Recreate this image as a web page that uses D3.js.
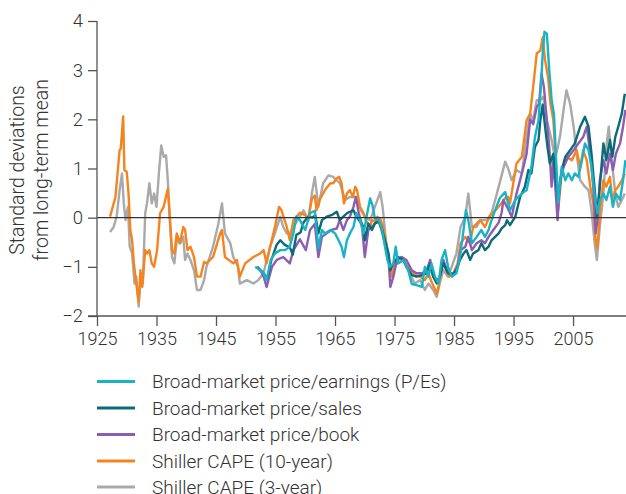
<!DOCTYPE html>
<html><head><meta charset="utf-8">
<script src="https://cdn.jsdelivr.net/npm/d3@7"></script>
<style>
html,body{margin:0;padding:0;background:#fff;}
svg{display:block;}
text{font-family:Roboto,"Liberation Sans",sans-serif;font-weight:300;fill:#333;}
</style></head><body>
<svg id="chart" width="626" height="494"></svg>
<script>
// ---- data (years, standard deviations from long-term mean) ----
const seriesNames = ["Broad-market price/earnings (P/Es)","Broad-market price/sales","Broad-market price/book","Shiller CAPE (10-year)","Shiller CAPE (3-year)"];
const seriesColors = ["#1ab3c6","#0d6a78","#8c5db1","#f5841f","#a9a9a9"];
const xTicks = [1925,1935,1945,1955,1965,1975,1985,1995,2005];
const yTicks = [-2,-1,0,1,2,3,4];

const cape10Years = [1927.2,1928.1,1928.8,1929.0,1929.4,1929.6,1930.0,1930.3,1930.6,1930.9,1931.2,1931.6,1932.0,1932.3,1932.6,1933.1,1933.4,1933.8,1934.2,1934.6,1935.1,1935.6,1936.2,1936.9,1937.2,1937.6,1938.0,1938.4,1938.9,1939.5,1939.8,1940.2,1940.7,1941.3,1941.8,1942.4,1943.0,1943.4,1944.5,1945.7,1946.0,1946.5,1947.9,1948.5,1949.0,1949.9,1951.3,1952.4,1953.0,1953.5,1954.1,1954.9,1955.6,1956.0,1956.9,1957.4,1958.0,1959.1,1960.0,1960.5,1961.1,1961.6,1961.9,1962.4,1963.3,1964.2,1964.7,1965.3,1965.7,1966.1,1966.5,1967.0,1967.5,1968.0,1968.4,1968.7,1969.2,1969.8,1970.3,1970.9,1971.2,1971.7,1972.1,1972.6,1973.1,1973.6,1974.1,1974.5,1975.1,1975.6,1976.2,1976.8,1977.6,1978.4,1979.3,1980.1,1980.7,1981.2,1982.1,1982.5,1983.1,1983.7,1984.2,1984.9,1985.6,1986.1,1986.9,1987.7,1988.2,1989.4,1990.2,1991.1,1992.2,1993.0,1993.6,1994.1,1994.4,1995.5,1996.4,1997.2,1997.8,1998.3,1998.9,1999.5,1999.9,2000.3,2000.8,2001.2,2001.7,2002.0,2002.5,2003.1,2003.9,2004.8,2005.6,2006.2,2006.7,2007.3,2007.9,2008.4,2008.8,2009.1,2009.5,2010.1,2010.6,2011.2,2011.6,2012.1,2012.6,2013.2,2013.7];
const cape10Values = [0.02,0.42,1.37,1.41,2.06,0.97,0.93,0.49,-0.25,-0.46,-0.93,-1.34,-1.71,-1.07,-1.41,-0.66,-0.73,-0.66,-0.93,-1.0,-0.66,0.09,0.22,0.59,0.09,-0.66,-0.73,-0.32,-0.52,-0.19,-0.25,-0.66,-0.59,-0.8,-1.2,-1.2,-0.9,-0.93,-0.8,-0.32,-0.25,-0.8,-0.93,-0.86,-1.2,-0.93,-0.8,-0.73,-0.66,-0.93,-0.59,-0.19,0.22,0.15,-0.19,-0.46,-0.05,0.1,0.05,-0.05,0.38,0.45,0.15,0.36,0.56,0.7,0.7,0.8,0.83,0.7,0.29,0.49,0.56,0.42,0.63,0.56,0.22,0.09,-0.08,-0.19,-0.05,-0.08,0.02,-0.02,-0.19,-0.52,-0.86,-1.2,-0.93,-0.86,-0.8,-0.93,-1.05,-1.17,-1.2,-1.27,-1.13,-1.3,-1.54,-1.34,-0.86,-1.07,-1.2,-1.13,-0.93,-0.52,-0.39,-0.52,-0.19,-0.05,-0.19,0.05,0.18,0.3,0.4,0.42,0.29,1.1,1.24,1.98,2.12,2.66,3.34,3.4,3.67,3.2,2.86,2.32,1.98,1.37,0.15,0.9,1.24,1.17,1.37,1.03,1.37,1.17,0.63,0.29,-0.46,-0.62,0.09,0.76,0.63,0.83,0.36,0.56,0.63,0.76,0.9];

const cape3Years = [1927.2,1927.8,1928.3,1928.8,1929.2,1929.5,1929.8,1930.2,1930.5,1930.9,1931.3,1931.6,1932.0,1932.4,1932.7,1933.1,1933.4,1933.8,1934.2,1934.6,1935.0,1935.4,1935.8,1936.2,1936.6,1936.9,1937.2,1937.6,1938.0,1938.4,1939.0,1939.5,1939.8,1940.2,1940.7,1941.3,1941.8,1942.4,1943.0,1943.4,1944.5,1945.4,1946.0,1946.5,1947.4,1947.9,1948.7,1949.0,1950.2,1951.3,1952.1,1953.0,1953.5,1954.1,1954.9,1955.8,1956.3,1956.9,1957.4,1958.0,1959.1,1959.7,1960.5,1961.1,1961.6,1962.2,1963.0,1963.9,1964.7,1965.8,1966.7,1967.5,1968.4,1968.9,1969.5,1970.0,1970.9,1971.7,1972.6,1973.0,1973.6,1974.0,1974.5,1975.4,1976.5,1977.6,1978.4,1979.3,1980.1,1980.7,1981.5,1982.1,1982.6,1983.2,1984.0,1984.6,1985.4,1986.1,1986.9,1987.4,1988.0,1988.8,1989.4,1990.5,1991.3,1992.2,1993.0,1993.6,1994.1,1994.7,1995.5,1996.4,1997.2,1997.8,1998.3,1998.9,1999.5,2000.0,2000.6,2001.4,2002.0,2002.8,2003.4,2003.9,2004.5,2005.1,2005.6,2006.2,2007.0,2007.6,2008.1,2008.7,2009.0,2009.5,2010.1,2010.6,2011.0,2011.5,2012.1,2012.6,2013.2,2013.7];
const cape3Values = [-0.29,-0.19,0.02,0.56,0.9,0.29,-0.05,0.22,-0.59,-0.73,-1.34,-1.2,-1.81,-1.13,-1.34,0.09,0.29,0.7,0.29,0.49,0.22,0.9,1.47,1.24,1.27,0.76,0.02,-0.8,-0.93,-0.46,-0.52,-0.39,-0.86,-0.73,-0.86,-1.07,-1.47,-1.47,-1.27,-1.0,-0.59,-0.12,0.29,-0.32,-0.52,-0.8,-1.0,-1.34,-1.27,-1.34,-1.27,-1.13,-0.86,-0.59,-0.32,0.02,-0.19,-0.32,-0.32,-0.19,0.02,0.15,-0.05,0.49,0.83,0.22,0.7,0.86,0.83,0.7,0.36,0.42,0.42,0.29,0.12,0.02,-0.05,0.22,0.52,0.22,-0.52,-0.86,-1.13,-0.93,-0.86,-1.15,-1.34,-1.27,-1.47,-1.34,-1.47,-1.61,-1.34,-1.07,-1.2,-1.0,-0.73,-0.19,0.02,0.49,-0.19,-0.19,-0.05,-0.05,0.09,0.49,0.86,1.14,1.0,0.76,0.97,0.9,1.64,2.12,1.98,2.39,2.39,2.46,1.98,1.58,1.2,1.64,2.19,2.59,2.32,1.85,1.3,0.76,0.63,0.56,0.15,-0.59,-0.86,-0.19,0.49,1.44,1.85,1.17,0.49,0.22,0.36,0.49];

const salesYears = [1951.9,1952.5,1953.0,1953.6,1954.3,1955.2,1955.8,1956.6,1957.4,1957.9,1958.5,1959.2,1959.7,1960.5,1961.2,1961.7,1962.2,1962.8,1963.6,1964.4,1965.3,1965.8,1966.4,1967.0,1967.5,1968.1,1968.6,1969.2,1969.8,1970.0,1970.6,1971.2,1971.7,1972.3,1972.8,1973.4,1974.0,1974.3,1974.8,1975.6,1976.5,1977.0,1977.9,1978.7,1979.6,1980.4,1981.0,1981.5,1982.1,1982.6,1983.2,1984.0,1984.8,1985.4,1986.0,1986.6,1987.1,1987.7,1988.2,1989.1,1989.6,1990.2,1990.8,1991.3,1991.9,1992.5,1993.0,1993.6,1993.9,1994.4,1995.3,1996.1,1996.9,1997.5,1998.0,1998.6,1999.2,1999.5,1999.9,2000.3,2000.7,2001.1,2001.7,2002.1,2002.5,2003.1,2003.7,2004.5,2005.3,2006.2,2007.0,2007.6,2008.1,2008.7,2009.0,2009.5,2010.1,2010.6,2011.2,2011.6,2012.1,2012.6,2013.2,2013.7];
const salesValues = [-1.0,-1.07,-1.13,-1.25,-0.86,-0.55,-0.46,-0.56,-0.6,-0.75,-0.35,-0.3,-0.1,0.02,0.0,0.05,-0.32,-0.05,0.02,0.05,0.12,-0.05,0.02,0.09,0.12,0.15,0.02,-0.08,-0.19,-0.46,-0.12,-0.25,-0.12,-0.08,-0.19,-0.46,-0.73,-1.07,-0.93,-0.8,-0.86,-1.0,-1.17,-1.2,-1.17,-1.13,-0.93,-1.2,-1.34,-1.2,-0.93,-1.13,-1.17,-1.07,-0.86,-0.73,-0.66,-0.86,-0.73,-0.66,-0.52,-0.66,-0.59,-0.46,-0.39,-0.32,-0.22,-0.15,-0.05,-0.15,0.02,0.42,0.63,0.97,0.9,1.44,1.58,1.98,2.3,1.85,1.44,1.1,1.3,0.76,0.36,0.97,1.24,1.37,1.51,1.85,2.05,1.85,1.3,0.49,0.0,0.63,1.51,1.17,1.58,1.24,1.64,1.85,2.12,2.52];

const bookYears = [1952.0,1952.6,1953.0,1953.5,1954.4,1955.2,1956.3,1957.4,1958.0,1959.1,1960.1,1960.8,1961.6,1962.2,1962.8,1963.6,1964.4,1965.3,1965.8,1966.4,1967.0,1967.5,1968.1,1968.5,1969.0,1969.5,1970.0,1970.6,1971.2,1971.7,1972.3,1972.8,1973.4,1974.0,1974.3,1974.8,1975.4,1976.2,1977.0,1977.9,1978.7,1979.6,1980.4,1981.0,1981.5,1982.1,1982.6,1983.2,1984.0,1984.9,1985.6,1986.1,1986.9,1987.4,1988.0,1988.8,1989.6,1990.2,1990.8,1991.6,1992.5,1993.0,1993.3,1993.9,1994.7,1995.5,1996.4,1997.2,1997.8,1998.3,1998.9,1999.3,1999.7,2000.1,2000.6,2001.0,2001.4,2001.7,2002.1,2002.4,2002.8,2003.4,2004.2,2005.1,2005.9,2006.7,2007.3,2007.9,2008.4,2008.8,2009.1,2009.5,2010.1,2010.6,2011.2,2011.7,2012.2,2012.9,2013.4,2013.8];
const bookValues = [-1.0,-1.1,-1.2,-1.41,-1.0,-0.86,-0.8,-0.93,-0.66,-0.44,-0.66,-0.25,-0.13,-0.8,-0.39,-0.32,-0.25,-0.22,-0.05,-0.25,-0.05,0.02,0.22,0.42,0.09,-0.12,-0.8,-0.25,-0.19,-0.12,-0.05,-0.25,-0.52,-0.86,-1.41,-1.2,-0.86,-0.8,-0.86,-1.07,-1.13,-1.13,-1.07,-0.86,-1.2,-1.3,-1.2,-0.86,-1.13,-1.13,-1.0,-0.66,-0.59,-0.39,-0.66,-0.52,-0.46,-0.52,-0.39,-0.25,-0.1,0.1,0.36,0.22,0.02,0.49,0.9,1.3,2.0,1.9,2.25,2.32,2.93,2.66,1.98,1.44,0.63,1.17,0.49,-0.05,0.76,1.03,1.24,1.37,1.51,1.64,1.85,1.3,0.63,-0.32,-0.05,0.76,1.17,0.9,1.3,0.97,1.3,1.51,1.85,2.19];

const peYears = [1951.6,1952.4,1953.0,1953.5,1954.2,1954.9,1955.8,1956.6,1957.4,1958.0,1958.5,1959.1,1960.0,1960.8,1961.6,1962.2,1962.8,1963.3,1964.2,1965.0,1965.6,1966.1,1966.5,1967.0,1967.5,1968.1,1968.6,1969.2,1969.8,1970.3,1970.9,1971.3,1971.7,1972.3,1972.8,1973.4,1973.8,1974.2,1974.8,1975.2,1975.6,1976.5,1977.3,1977.9,1978.7,1979.6,1980.1,1980.7,1981.2,1981.8,1982.4,1982.9,1983.5,1984.0,1984.6,1985.4,1986.0,1986.6,1987.0,1987.4,1988.0,1988.8,1989.6,1990.2,1990.8,1991.3,1991.9,1992.7,1993.6,1994.4,1995.3,1996.4,1997.2,1998.0,1998.6,1999.2,1999.6,1999.9,2000.2,2000.6,2001.0,2001.4,2001.8,2002.1,2002.5,2003.1,2003.7,2004.2,2004.8,2005.3,2005.9,2006.5,2007.0,2007.6,2008.1,2008.7,2009.1,2009.5,2010.1,2010.6,2011.2,2011.7,2012.2,2012.9,2013.4,2013.8];
const peValues = [-1.0,-1.07,-1.13,-1.27,-0.86,-0.73,-0.66,-0.66,-0.59,-0.32,0.02,-0.05,-0.25,0.09,0.14,-0.62,-0.25,-0.32,-0.25,-0.32,-0.46,-0.59,-0.8,-0.46,-0.32,-0.19,0.09,-0.05,-0.32,0.02,0.39,0.25,-0.02,-0.05,-0.19,-0.59,-0.86,-1.0,-0.93,-0.59,-0.93,-0.86,-1.07,-1.35,-1.37,-1.41,-1.0,-1.2,-0.93,-1.2,-1.34,-0.86,-0.66,-1.0,-1.2,-1.13,-0.8,-0.25,0.15,-0.05,-0.52,-0.39,-0.25,-0.39,-0.25,-0.05,0.15,0.4,0.52,0.15,0.36,0.49,0.56,1.03,1.64,1.98,2.66,3.34,3.78,3.74,3.0,2.4,2.1,1.3,0.3,1.03,0.76,0.9,0.76,0.9,0.83,1.17,1.51,1.37,1.03,0.36,0.09,0.36,0.49,0.36,0.63,0.22,0.49,0.36,0.76,1.17];

const seriesData = [
  [peYears, peValues],
  [salesYears, salesValues],
  [bookYears, bookValues],
  [cape10Years, cape10Values],
  [cape3Years, cape3Values]
];
const drawOrder = [4,3,2,1,0];

// ---- chart ----
const svg = d3.select("#chart");
const x = d3.scaleLinear().domain([1925, 2013.9]).range([97, 626]);
const y = d3.scaleLinear().domain([-2, 4]).range([316, 21]);
const FONT = "Roboto, 'Liberation Sans', sans-serif";

// series
const line = d3.line().x(d => x(d[0])).y(d => y(d[1]));
drawOrder.forEach(i => {
  const [yrs, vals] = seriesData[i];
  const pts = yrs.map((yr, k) => [yr, vals[k]]);
  svg.append("path").datum(pts)
    .attr("d", line)
    .attr("fill", "none")
    .attr("stroke", seriesColors[i])
    .attr("stroke-width", 2.4)
    .attr("stroke-linejoin", "round");
});

// zero line
svg.append("line")
  .attr("x1", x(1925)).attr("x2", 626)
  .attr("y1", y(0)).attr("y2", y(0))
  .attr("stroke", "#333").attr("stroke-width", 1.2);

// y axis
const yAxis = svg.append("g").attr("transform", "translate(97,0)")
  .call(d3.axisLeft(y).tickValues(yTicks).tickSize(9).tickPadding(5).tickFormat(d3.format("d")));
yAxis.select(".domain").attr("stroke", "#555").attr("stroke-width", 1.3).attr("d", "M0," + y(4) + "V" + y(-2));
yAxis.selectAll(".tick line").attr("stroke", "#555").attr("stroke-width", 1.3);
yAxis.selectAll(".tick text").attr("font-size", 18.5).attr("font-family", FONT).attr("fill", "#333").attr("font-weight", 300);

// x axis
const xAxis = svg.append("g").attr("transform", "translate(0,316)")
  .call(d3.axisBottom(x).tickValues(xTicks).tickSize(10).tickPadding(6).tickFormat(d3.format("d")));
xAxis.select(".domain").attr("stroke", "#555").attr("stroke-width", 1.3).attr("d", "M88,0H626");
xAxis.selectAll(".tick line").attr("stroke", "#555").attr("stroke-width", 1.3);
xAxis.selectAll(".tick text").attr("font-size", 18).attr("font-family", FONT).attr("fill", "#333").attr("font-weight", 300);

// y label
const yl = svg.append("text").attr("transform", "translate(24,170) rotate(-90)")
  .attr("text-anchor", "middle").attr("font-size", 19.5);
yl.append("tspan").attr("x", 0).attr("dy", 0).text("Standard deviations");
yl.append("tspan").attr("x", 0).attr("dy", 24).text("from long-term mean");

// legend
const legRows = [381.5, 408, 434.5, 461, 487];
seriesNames.forEach((name, i) => {
  const g = svg.append("g").attr("transform", "translate(0," + legRows[i] + ")");
  g.append("line").attr("x1", 97).attr("x2", 135).attr("y1", 0).attr("y2", 0)
    .attr("stroke", seriesColors[i]).attr("stroke-width", 3);
  g.append("text").attr("x", 152).attr("y", 0).attr("dy", "0.35em")
    .attr("font-size", 19).text(name);
});
</script>
</body></html>
